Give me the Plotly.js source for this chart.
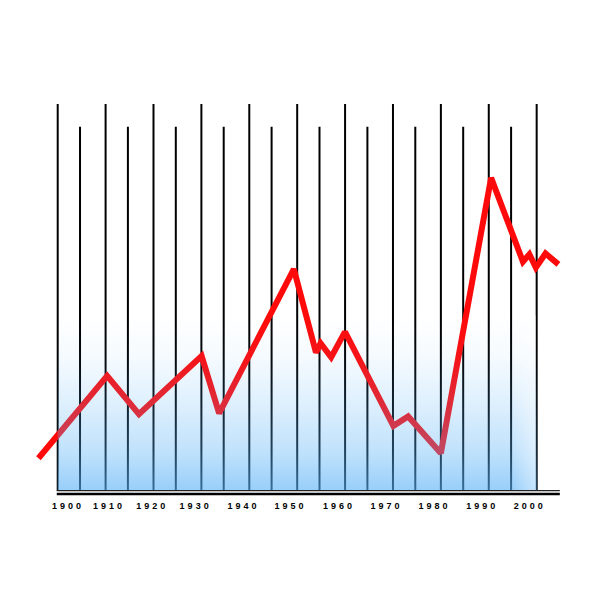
<!DOCTYPE html>
<html>
<head>
<meta charset="utf-8">
<script src="https://cdn.plot.ly/plotly-3.0.1.min.js"></script>
<style>
  html, body { margin: 0; padding: 0; background: #fff; }
  #chart { width: 600px; height: 600px; }
  .xtick text { letter-spacing: 3px; }
</style>
</head>
<body>
<div id="chart"></div>
<script>
// ---- data ----
var years = [1893.8, 1908.7, 1915.6, 1929.2, 1933.0, 1949.2, 1954.0, 1955.0, 1957.3, 1960.3,
             1970.8, 1974.0, 1981.1, 1992.0, 1998.9, 2000.3, 2001.7, 2003.8, 2006.6];
var values = [8.4, 29.5, 19.7, 34.6, 19.9, 56.9, 35.5, 37.9, 34.3, 40.8,
              16.7, 19.1, 9.7, 80.3, 58.8, 60.7, 57.3, 60.9, 58.1];

var tickLabels = ['1900', '1910', '1920', '1930', '1940', '1950', '1960', '1970', '1980', '1990', '2000'];
var tickPositions = [1900.2, 1909.1, 1918.5, 1927.9, 1938.3, 1948.5, 1959.0, 1969.3, 1979.7, 1990.1, 2000.4];

// ---- decoration (vertical bars of the backdrop) ----
var gridStart = 1897.98, gridStep = 10.39, tallCount = 11;
var shortStart = 1902.82, shortCount = 10;
var tallTop = 99.2, shortTop = 93.4;
var fillTop = 45;

var shapes = [];
for (var i = 0; i < tallCount; i++) {
  var gx = gridStart + i * gridStep;
  shapes.push({type: 'line', xref: 'x', yref: 'y', layer: 'below',
    x0: gx, x1: gx, y0: 0, y1: tallTop, line: {color: '#000', width: 2}});
}
for (var j = 0; j < shortCount; j++) {
  var sx = shortStart + j * gridStep;
  shapes.push({type: 'line', xref: 'x', yref: 'y', layer: 'below',
    x0: sx, x1: sx, y0: 0, y1: shortTop, line: {color: '#000', width: 2}});
}
var gridEnd = gridStart + (tallCount - 1) * gridStep;
var lastShort = shortStart + (shortCount - 1) * gridStep;
var baseEnd = 2006.9;
// baseline double rule
shapes.push({type: 'line', xref: 'x', yref: 'y', layer: 'above',
  x0: gridStart - 0.2, x1: baseEnd, y0: 0.1, y1: 0.1, line: {color: '#222', width: 1.2}});
shapes.push({type: 'line', xref: 'x', yref: 'y', layer: 'above',
  x0: gridStart - 0.2, x1: baseEnd, y0: -0.75, y1: -0.75, line: {color: '#000', width: 2.5}});

var lineTrace = {
  x: years, y: values, type: 'scatter', mode: 'lines',
  line: {color: '#ff0a0a', width: 6},
  hoverinfo: 'skip', showlegend: false
};

var fillTrace = {
  x: [gridStart, gridEnd], y: [fillTop, fillTop], type: 'scatter', mode: 'lines',
  line: {width: 0, color: 'rgba(0,0,0,0)'},
  fill: 'tozeroy',
  fillgradient: {
    type: 'vertical', start: 0, stop: fillTop,
    colorscale: [
      [0, 'rgba(88,177,247,0.62)'],
      [0.22, 'rgba(88,177,247,0.38)'],
      [0.51, 'rgba(88,177,247,0.19)'],
      [0.76, 'rgba(88,177,247,0.06)'],
      [1, 'rgba(88,177,247,0)']
    ]
  },
  hoverinfo: 'skip', showlegend: false
};

// lighter fade in the last cell of the backdrop
var fadeTrace = {
  x: [lastShort + 0.25, gridEnd - 0.2], y: [fillTop, fillTop], type: 'scatter', mode: 'lines',
  line: {width: 0, color: 'rgba(0,0,0,0)'},
  fill: 'tozeroy',
  fillgradient: {
    type: 'horizontal', start: lastShort + 0.25, stop: gridEnd - 0.2,
    colorscale: [[0, 'rgba(255,255,255,0)'], [1, 'rgba(255,255,255,0.45)']]
  },
  hoverinfo: 'skip', showlegend: false
};

var layout = {
  width: 600, height: 600,
  margin: {l: 30, r: 30, t: 101, b: 104, pad: 0},
  paper_bgcolor: '#fff', plot_bgcolor: '#fff',
  showlegend: false,
  xaxis: {
    range: [1891.97, 2009.11], showgrid: false, zeroline: false, showline: false,
    ticks: '', tickmode: 'array', tickvals: tickPositions, ticktext: tickLabels,
    ticklabelstandoff: 3,
    tickfont: {family: 'Liberation Sans, Arial, sans-serif', size: 9, color: '#000', weight: 'bold'},
    fixedrange: true
  },
  yaxis: {
    range: [-1.282, 100], showgrid: false, zeroline: false, showline: false,
    showticklabels: false, ticks: '', fixedrange: true
  },
  shapes: shapes
};

Plotly.newPlot('chart', [lineTrace, fillTrace, fadeTrace], layout, {staticPlot: true, displayModeBar: false});
</script>
</body>
</html>
